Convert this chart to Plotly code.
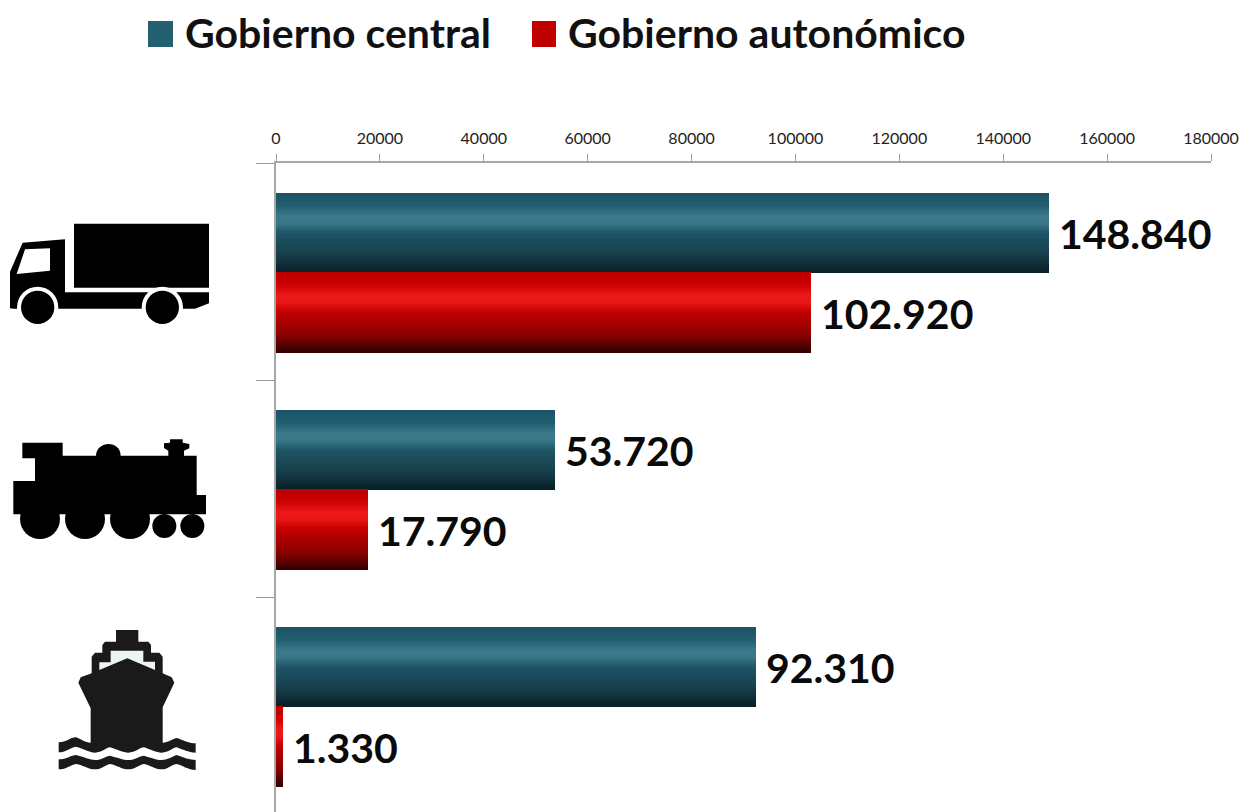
import re
import plotly.graph_objects as go

categories = ["Camión", "Tren", "Barco"]
central = [148840, 53720, 92310]
autonomico = [102920, 17790, 1330]
series_names = ["Gobierno central", "Gobierno autonómico"]
tick_values = [0, 20000, 40000, 60000, 80000, 100000, 120000, 140000, 160000, 180000]

W, H = 1254, 812
L, R, T, B = 276, 43, 163, 0
FONT = "Lato"
ROW_PX = 217
BAR_UNITS = 79.6 / ROW_PX
BAR_SHIFT = 1.4 / ROW_PX
SLICES = 40

teal_stops = [(0, (28, 84, 102)), (0.16, (34, 94, 112)), (0.3, (60, 122, 140)), (0.38, (58, 118, 136)), (0.5, (30, 84, 102)), (0.8, (22, 60, 72)), (1, (8, 32, 40))]
red_stops = [(0, (185, 0, 0)), (0.16, (205, 2, 2)), (0.3, (238, 26, 26)), (0.38, (234, 22, 22)), (0.5, (195, 0, 0)), (0.8, (135, 0, 0)), (1, (50, 0, 0))]


def shade(stops, t):
    for (a, ca), (b, cb) in zip(stops, stops[1:]):
        if t <= b:
            f = (t - a) / (b - a)
            return "rgb(%d,%d,%d)" % tuple(round(p + (q - p) * f) for p, q in zip(ca, cb))
    return "rgb(%d,%d,%d)" % stops[-1][1]


def px(x):
    return (x - L) / (W - L - R)


def py(y):
    return 1 - (y - T) / (H - T - B)


def to_paper(path, scale=3, ox=0, oy=0):
    nums = iter(re.findall(r"[A-Z]|-?\d+\.?\d*", path))
    out = []
    for tok in nums:
        if tok.isalpha():
            out.append(tok)
        else:
            x = float(tok) / scale + ox
            y = float(next(nums)) / scale + oy
            out.append(f"{px(x):.5f},{py(y):.5f}")
    return " ".join(out)


def poly(path, color, ox=0, oy=0):
    return dict(type="path", xref="paper", yref="paper", layer="above", path=to_paper(path, 3, ox, oy),
                fillcolor=color, line=dict(width=0))


def disc(cx, cy, r, color, ox=0, oy=0):
    cx, cy, r = cx / 3 + ox, cy / 3 + oy, r / 3
    return dict(type="circle", xref="paper", yref="paper", layer="above", x0=px(cx - r), x1=px(cx + r),
                y0=py(cy + r), y1=py(cy - r), fillcolor=color, line=dict(width=0))


def rect(x0, y0, x1, y1, color):
    return dict(type="rect", xref="paper", yref="paper", layer="above", x0=px(x0), x1=px(x1), y0=py(y1), y1=py(y0),
                fillcolor=color, line=dict(width=0))


fig = go.Figure()
ys = list(range(len(categories)))
for vals, stops, name, start in [(central, teal_stops, series_names[0], BAR_SHIFT - BAR_UNITS),
                                 (autonomico, red_stops, series_names[1], BAR_SHIFT)]:
    for i in range(SLICES):
        fig.add_trace(go.Bar(
            x=vals, y=ys, orientation="h", name=name, showlegend=False,
            width=BAR_UNITS / SLICES, offset=start + i * BAR_UNITS / SLICES,
            marker=dict(color=shade(stops, (i + 0.5) / SLICES), line=dict(width=0)),
            customdata=categories, hovertemplate="%{customdata}: %{x}<extra>" + name + "</extra>",
        ))

shapes = []
# truck
shapes += [
    poly("M222,71 L627,71 L627,263 L222,263 Z", "#000000", 0, 200),
    poly("M30,325 L30,215 L68,128 L195,118 L195,277 L627,277 L627,310 L585,326 L40,326 Z", "#000000", 0, 200),
    poly("M50,222 L75,148 L150,145 L150,212 Z", "#ffffff", 0, 200),
    disc(113, 322, 62, "#ffffff", 0, 200), disc(113, 322, 50, "#000000", 0, 200),
    disc(487, 322, 62, "#ffffff", 0, 200), disc(487, 322, 50, "#000000", 0, 200),
]
# locomotive
shapes += [
    poly("M67,68 L188,68 L188,107 L288,107 C290,60 362,60 362,107 L505,107 L505,92 L492,84 L492,70 L510,68 L510,58 "
         "L548,58 L548,68 L568,72 L568,85 L552,92 L552,107 L590,107 L590,225 L618,225 L618,283 L40,283 L40,183 "
         "L105,183 L105,115 L67,115 Z", "#000000", 0, 420),
    disc(120, 297, 60, "#000000", 0, 420), disc(255, 297, 60, "#000000", 0, 420),
    disc(390, 297, 60, "#000000", 0, 420), disc(493, 318, 36, "#000000", 0, 420),
    disc(577, 318, 36, "#000000", 0, 420),
]
# ship
shapes += [
    poly("M228,30 L295,30 L295,65 L325,65 L333,75 L333,98 L358,98 L368,110 L368,160 L395,172 L403,188 L368,262 "
         "L368,372 L152,372 L152,265 L115,188 L122,172 L155,160 L155,110 L165,98 L187,98 L187,75 L195,65 L228,65 Z",
         "#1a1a1a", 40, 620),
    poly("M178,150 L178,127 L212,127 L212,92 L310,92 L310,125 L345,125 L345,150 L262,115 Z", "#eef3f3", 40, 620),
    poly("M56,367 C80,367 95,350 108,352 C125,358 135,368 152,368 L368,368 C385,368 395,358 410,354 C425,358 445,370 467,370 "
         "L467,398 C450,398 430,390 410,382 C400,382 385,398 365,398 C350,398 330,388 312,382 C300,382 285,398 265,398 "
         "C250,398 230,388 210,382 C200,382 185,398 165,398 C150,398 130,385 108,380 C95,380 80,397 56,397 Z",
         "#1a1a1a", 40, 620),
    poly("M56,418 C80,418 95,405 108,405 C130,410 150,420 165,420 C185,420 200,407 210,407 C230,412 250,420 265,420 "
         "C285,420 300,407 312,407 C330,412 350,420 365,420 C385,420 400,407 410,405 C430,412 450,420 467,420 "
         "L467,450 C445,450 425,435 410,432 C390,435 385,448 365,448 C345,448 330,435 312,432 C295,435 285,448 265,448 "
         "C245,448 230,435 210,432 C195,435 185,448 165,448 C145,448 130,435 108,432 C90,435 80,448 56,448 Z",
         "#1a1a1a", 40, 620),
]
# legend swatches
shapes += [rect(148, 21, 173, 47, "#24606F"), rect(532, 21, 556, 47, "#C00000")]

annotations = []
for name, x0 in zip(series_names, [183, 566]):
    annotations.append(dict(xref="paper", yref="paper", x=px(x0), y=py(32.5), text=name, showarrow=False,
                            xanchor="left", yanchor="middle",
                            font=dict(family=FONT, size=41, color="#111111", weight=700)))
for vals, shift in [(central, -BAR_UNITS / 2), (autonomico, BAR_UNITS / 2)]:
    for y, v in zip(ys, vals):
        annotations.append(dict(xref="x", yref="y", x=v, y=y + shift + 2.2 / ROW_PX,
                                text=f"{v:,}".replace(",", "."), showarrow=False, xanchor="left", yanchor="middle",
                                xshift=8, font=dict(family=FONT, size=41, color="#0a0a0a", weight=700)))

fig.update_layout(
    width=W, height=H, autosize=False, barmode="overlay", bargap=0,
    paper_bgcolor="white", plot_bgcolor="white", showlegend=False,
    margin=dict(l=L, r=R, t=T, b=B, pad=0),
    shapes=shapes, annotations=annotations,
    xaxis=dict(side="top", range=[0, 180000], tickmode="array", tickvals=tick_values,
               ticktext=[str(v) for v in tick_values], ticks="outside", ticklen=7, tickwidth=1, tickcolor="#999999",
               ticklabelstandoff=4,
               showline=True, linecolor="#a6a6a6", linewidth=2, showgrid=False, zeroline=False,
               tickfont=dict(family=FONT, size=16, color="#222222"), automargin=False),
    yaxis=dict(range=[(H - T) / ROW_PX - 0.5, -0.5], tickmode="array", tickvals=[-0.5, 0.5, 1.5],
               ticktext=["", "", ""], ticks="outside", ticklen=18, tickwidth=1, tickcolor="#999999",
               showline=True, linecolor="#a6a6a6", linewidth=2, showgrid=False, zeroline=False, automargin=False),
)
fig.write_html("out.html", config={"displayModeBar": False},
               post_script="document.body.style.margin='0';document.documentElement.style.overflow='hidden';")
